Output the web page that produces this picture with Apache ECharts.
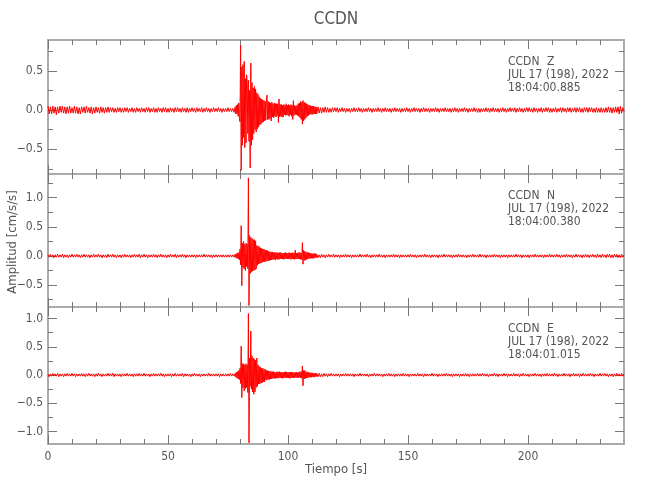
<!DOCTYPE html>
<html>
<head>
<meta charset="utf-8">
<script src="https://cdn.jsdelivr.net/npm/echarts@6/dist/echarts.min.js"></script>
<style>html,body{margin:0;padding:0;background:#fff}#c{width:650px;height:500px}</style>
</head>
<body>
<div id="c"></div>
<script>
// ---- data: amplitudes in 0.01 cm/s/s ----
// pre-event samples every dtSlow s from t = 0, event window every dtFast s from eventStart,
// post-event samples every dtSlow s from postStart.
const dtSlow = 0.5, dtFast = 0.25;
const eventStart = 78, postStart = 112;
const station = 'CCDN';
const components = ['Z', 'N', 'E'];
const dateLabel = 'JUL 17 (198), 2022';
const startTimes = ['18:04:00.885', '18:04:00.380', '18:04:01.015'];
const xTickValues = [0, 50, 100, 150, 200];
const xMinorValues = [10,20,30,40,60,70,80,90,110,120,130,140,160,170,180,190,210,220,230];
const yTickValues = [[-0.5, 0, 0.5], [-0.5, 0, 0.5, 1.0], [-1.0, -0.5, 0, 0.5, 1.0]];
const yMinorValues = [[-0.75,-0.25,0.25,0.75], [-0.75,-0.25,0.25,0.75,1.25], [-0.75,-0.25,0.25,0.75]];
const yMin = [-0.817, -0.875, -1.221];
const yMax = [0.894, 1.406, 1.204];
const xMin = 0, xMax = 240;

const zPre = [
5,-5,4,-5,5,-4,4,-6,4,-4,5,-3,5,-4,4,-5,4,-4,5,-4,
3,-4,5,-4,4,-5,3,-5,4,-3,4,-4,5,-3,3,-4,4,-5,3,-4,
4,-3,3,-4,4,-3,3,-4,3,-3,4,-3,3,-2,3,-3,2,-3,3,-2,
3,-3,2,-3,3,-2,3,-3,2,-2,3,-3,2,-3,3,-2,2,-3,3,-2,
2,-3,3,-2,3,-3,2,-2,3,-3,2,-3,3,-2,2,-3,3,-2,3,-3,
2,-3,3,-2,2,-3,3,-2,3,-2,2,-3,3,-2,2,-3,3,-3,2,-2,
3,-2,2,-3,3,-2,2,-2,3,-3,2,-2,3,-2,2,-3,2,-2,3,-2,
2,-2,3,-2,2,-3,2,-2,2,-2,3,-2,2,-2,2,-3
];
const zEvent = [
4,-5,6,-5,   7,-8,9,-10,
-15,83,-77,55,   -45,58,-35,62,   -48,40,-42,45,   35,-30,38,-40,
25,-74,60,-45,   35,-38,28,-30,   30,-25,27,-28,   22,-24,20,-22,
17,-19,15,-18,   14,-16,13,-15,   12,-14,11,-13,   10,19,-12,11,
-12,10,-11,9,    -14,10,-9,8,     -10,9,-8,8,      -9,8,-7,8,
-16,14,-9,7,     -8,7,-9,6,       -9,7,-6,6,       -7,8,-6,6,
-7,7,-8,6,       -6,7,-8,6,       -12,12,-7,6,     -6,5,-6,6,
-7,8,-8,9,       -10,11,-12,10,   -18,12,-14,10,   -12,9,-10,8,
-8,7,-7,6,       -6,6,-5,5,       -6,5,-5,5,       -5,4,-5,4
];
const zPost = [
-5,4,-4,3,-4,3,-3,4,-3,3,-3,2,-3,3,-2,3,
-2,3,-3,2,-2,3,-2,2,-3,2,-2,2,-3,2,-2,3,-2,2,-2,3,
-2,2,-3,2,-2,2,-2,3,-2,2,-3,2,-2,2,-2,3,-2,2,-3,2,
-2,3,-2,2,-2,2,-3,2,-2,3,-2,2,-2,2,-3,2,-2,2,-2,3,
-2,2,-3,2,-2,3,-2,2,-2,2,-3,2,-2,3,-2,2,-2,2,-3,2,
-2,2,-2,3,-2,2,-3,2,-2,2,-2,3,-2,2,-2,2,-3,2,-2,3,
-2,2,-3,2,-2,2,-2,3,-2,2,-3,2,-2,2,-2,3,-2,2,-3,2,
-3,2,-2,2,-2,3,-2,2,-3,2,-2,3,-2,2,-2,2,-3,2,-2,3,
-2,2,-3,2,-2,3,-2,2,-2,3,-3,2,-2,3,-2,2,-3,2,-2,3,
-2,3,-2,2,-3,3,-2,2,-3,2,-2,3,-3,2,-2,3,-2,3,-3,2,
-3,2,-2,3,-3,2,-2,3,-3,3,-2,2,-3,3,-2,3,-3,2,-2,3,
-3,3,-2,3,-3,2,-3,3,-2,3,-3,3,-2,3,-3,2,-3,3,-3,2,
-3,3,-3,2,-3,3,-3,4,-3,3,-4,3,-3,4,-3,4,-5,5,-4,3,
-2
];

const nPre = [
2,-2,3,-2,2,-3,2,-2,3,-2,2,-2,3,-3,2,-2,2,-3,2,-2,
3,-2,2,-2,3,-2,2,-3,2,-2,3,-2,2,-2,2,-3,2,-2,3,-2,
2,-2,3,-2,2,-3,2,-2,2,-3,3,-2,2,-2,3,-2,2,-3,2,-2,
2,-3,2,-2,3,-2,2,-2,2,-3,2,-2,3,-2,2,-2,3,-3,2,-2,
3,-2,2,-3,2,-2,2,-2,3,-2,2,-3,2,-2,3,-2,2,-2,2,-3,
2,-2,3,-2,2,-2,3,-3,2,-2,2,-2,3,-2,2,-3,2,-2,2,-2,
2,-2,2,-3,2,-2,2,-2,2,-2,3,-2,2,-2,2,-2,2,-3,2,-2,
2,-2,2,-2,2,-2,2,-2,2,-2,2,-2,2,-2,2,-2
];
const nEvent = [
3,-3,4,-4,      5,-5,6,-7,
12,-15,52,-51,  22,-20,25,-22,  20,-25,22,-18,  20,-22,134,-85,
35,-30,32,-28,  30,-26,28,-25,  28,-24,26,-22,  18,-16,17,-14,
16,-13,14,-12,  13,-11,12,-10,  12,-10,10,-9,   10,-9,9,-8,
8,-8,7,-7,      7,-7,7,-6,      6,-6,6,-7,      6,-5,6,-6,
5,-6,6,-5,      6,-5,5,-5,      5,-6,5,-5,      6,-5,5,-5,
5,-5,6,-5,      5,-6,5,-5,      6,-5,5,-6,      10,-5,5,-5,
5,-5,6,-5,      6,-6,5,-6,      23,-14,10,-8,   8,-7,7,-6,
6,-5,6,-5,      5,-4,5,-4,      4,-4,4,-4,      4,-3,4,-3
];
const nPost = [
3,-3,2,-3,3,-2,2,-3,2,-2,3,-2,2,-2,3,-2,
2,-2,2,-3,2,-2,2,-2,3,-2,2,-2,2,-3,2,-2,2,-2,2,-2,
3,-2,2,-2,2,-2,3,-2,2,-3,2,-2,2,-2,2,-2,3,-2,2,-2,
2,-3,2,-2,2,-2,2,-2,3,-2,2,-2,2,-3,2,-2,2,-2,2,-2,
2,-2,3,-2,2,-2,2,-3,2,-2,2,-2,2,-2,3,-2,2,-2,2,-3,
2,-2,2,-2,2,-3,2,-2,2,-2,3,-2,2,-2,2,-2,2,-3,2,-2,
2,-2,3,-2,2,-2,2,-2,2,-3,2,-2,2,-2,3,-2,2,-2,2,-2,
3,-2,2,-2,2,-3,2,-2,2,-2,2,-2,3,-2,2,-2,2,-3,2,-2,
2,-2,2,-3,2,-2,2,-2,2,-2,3,-2,2,-2,2,-3,2,-2,2,-2,
2,-3,2,-2,2,-2,3,-2,2,-2,2,-2,2,-3,2,-2,2,-2,3,-2,
2,-2,2,-2,3,-2,2,-3,2,-2,2,-2,3,-2,2,-2,2,-3,2,-2,
3,-2,2,-2,2,-3,2,-2,3,-2,2,-3,2,-2,3,-2,2,-3,3,-2,
2,-3,3,-2,2,-3,3,-2,3,-3,2,-3,3,-2,3,-3,2,-3,3,-2,
2
];

const ePre = [
2,-3,2,-2,3,-2,2,-2,3,-3,2,-2,2,-3,2,-2,3,-2,2,-2,
3,-2,2,-3,2,-2,2,-2,3,-2,2,-3,2,-2,3,-2,2,-2,2,-3,
2,-2,3,-2,2,-3,2,-2,2,-2,3,-2,2,-2,3,-3,2,-2,2,-2,
2,-3,2,-2,2,-2,3,-2,2,-2,2,-3,2,-2,2,-2,3,-2,2,-2,
3,-2,2,-2,2,-3,2,-2,3,-2,2,-2,2,-2,3,-2,2,-3,2,-2,
2,-2,2,-3,2,-2,3,-2,2,-2,2,-2,3,-3,2,-2,2,-2,2,-3,
2,-2,3,-2,2,-2,2,-3,2,-2,2,-2,2,-2,3,-2,2,-2,2,-2,
2,-2,2,-3,2,-2,2,-2,2,-2,2,-2,3,-2,2,-2
];
const eEvent = [
3,-4,5,-5,      6,-7,8,-8,
12,-15,51,-40,  20,-22,20,-28,  18,-24,20,-22,  18,-31,109,-120,
30,-20,78,-25,  34,-30,30,-34,  28,-30,26,-22,  30,-20,18,-16,
15,-16,14,-14,  12,-14,12,-12,  10,-12,10,-9,   8,-9,8,-8,
7,-8,7,-7,      6,-7,6,-6,      6,-6,5,-6,      5,-5,6,-6,
5,-5,6,-5,      5,-5,5,-6,      5,-5,5,-5,      6,-5,5,-5,
5,-5,5,-6,      5,-5,5,-5,      5,-5,4,-5,      5,-4,5,-5,
4,-5,5,-4,      6,-5,6,-6,      16,-19,8,-7,    8,-6,6,-5,
5,-5,5,-4,      4,-4,4,-4,      4,-3,3,-4,      3,-3,3,-3
];
const ePost = [
3,-3,3,-3,2,-3,3,-2,2,-3,2,-2,3,-2,2,-2,
2,-2,2,-3,2,-2,2,-2,3,-2,2,-2,2,-2,2,-3,2,-2,2,-2,
3,-2,2,-2,2,-2,2,-3,2,-2,2,-2,3,-2,2,-2,2,-2,2,-3,
2,-2,2,-2,3,-2,2,-2,2,-3,2,-2,2,-2,2,-2,3,-2,2,-2,
2,-3,2,-2,2,-2,2,-2,3,-2,2,-2,2,-3,2,-2,2,-2,2,-2,
3,-2,2,-2,2,-3,2,-2,2,-2,2,-2,3,-2,2,-2,2,-3,2,-2,
2,-2,2,-3,2,-2,2,-2,3,-2,2,-3,2,-2,2,-2,2,-2,3,-2,
2,-2,3,-2,2,-2,2,-3,2,-2,2,-2,3,-2,2,-3,2,-2,2,-2,
3,-2,2,-3,2,-2,2,-2,3,-2,2,-2,2,-3,2,-2,3,-2,2,-2,
2,-3,2,-2,2,-2,3,-2,2,-2,2,-3,2,-2,2,-2,3,-2,2,-2,
2,-2,3,-2,2,-3,2,-2,2,-2,3,-2,2,-2,2,-3,2,-2,3,-2,
2,-2,2,-3,2,-2,3,-2,2,-2,2,-2,3,-2,2,-3,2,-2,2,-2,
3,-2,2,-2,3,-2,2,-3,2,-2,2,-3,2,-2,3,-2,2,-2,3,-2,
2
];
const traces = [[zPre, zEvent, zPost], [nPre, nEvent, nPost], [ePre, eEvent, ePost]];

// ---- layout / style ----
const FONT = '"Liberation Sans Narrow","Arial Narrow","DejaVu Sans Condensed",sans-serif';
const TXT = '#555555';
const AX = '#aaaaaa';
const TK = '#777777';
const plotLeft = 48, plotWidth = 576;
const tops = [40, 174, 307];
const heights = [134, 133, 137];

const fmtY = v => (v < 0 ? '\u2212' : '') + Math.abs(v).toFixed(1);

function buildTrace(parts) {
  const [pre, ev, post] = parts;
  const pts = [];
  pre.forEach((v, i) => pts.push([i * dtSlow, v / 100]));
  ev.forEach((v, i) => pts.push([eventStart + i * dtFast, v / 100]));
  post.forEach((v, i) => pts.push([postStart + i * dtSlow, v / 100]));
  return pts;
}

const grids = [], xAxes = [], yAxes = [], series = [], graphics = [];

function xAx(g, pos, major, showLine, showLabel) {
  return {
    type: 'value', gridIndex: g, position: pos, min: xMin, max: xMax,
    axisLine: { show: showLine, onZero: false, lineStyle: { color: AX, width: 2 } },
    axisTick: { show: true, inside: true, length: major ? 9 : 5,
      customValues: major ? xTickValues : xMinorValues,
      lineStyle: { color: TK, width: 1 } },
    axisLabel: { show: showLabel, customValues: xTickValues, margin: 7,
      color: TXT, fontSize: 12, fontFamily: FONT },
    splitLine: { show: false }
  };
}
function yAx(g, pos, major, showLine, showLabel) {
  return {
    type: 'value', gridIndex: g, position: pos, min: yMin[g], max: yMax[g],
    axisLine: { show: showLine, onZero: false, lineStyle: { color: AX, width: 2 } },
    axisTick: { show: true, inside: true, length: major ? 9 : 5,
      customValues: major ? yTickValues[g] : yMinorValues[g],
      lineStyle: { color: TK, width: 1 } },
    axisLabel: { show: showLabel, customValues: yTickValues[g], margin: 5,
      color: TXT, fontSize: 12, fontFamily: FONT, formatter: fmtY },
    splitLine: { show: false }
  };
}

for (let g = 0; g < 3; g++) {
  grids.push({ left: plotLeft, width: plotWidth, top: tops[g], height: heights[g], containLabel: false });
  xAxes.push(xAx(g, 'bottom', true, true, g === 2));
  xAxes.push(xAx(g, 'bottom', false, false, false));
  xAxes.push(xAx(g, 'top', true, true, false));
  xAxes.push(xAx(g, 'top', false, false, false));
  yAxes.push(yAx(g, 'left', true, true, true));
  yAxes.push(yAx(g, 'left', false, false, false));
  yAxes.push(yAx(g, 'right', true, true, false));
  yAxes.push(yAx(g, 'right', false, false, false));
  series.push({
    type: 'line', xAxisIndex: 4 * g, yAxisIndex: 4 * g,
    data: buildTrace(traces[g]),
    showSymbol: false, symbol: 'none', sampling: null, silent: true,
    lineStyle: { color: '#ff0000', width: 1 }, z: 1
  });
  const ty = tops[g];
  const txt = (t, x, y) => ({ type: 'text', x: x, y: y, silent: true,
    style: { text: t, fill: TXT, font: '12px ' + FONT, align: 'left', verticalAlign: 'middle' } });
  graphics.push(txt(station, 508, ty + 22));
  graphics.push(txt(components[g], 547, ty + 22));
  graphics.push(txt(dateLabel, 508, ty + 35));
  graphics.push(txt(startTimes[g], 508, ty + 48));
}

graphics.push({ type: 'text', x: plotLeft + plotWidth / 2, y: 20, silent: true,
  style: { text: station, fill: TXT, font: '17px ' + FONT, align: 'center', verticalAlign: 'middle' } });
graphics.push({ type: 'text', x: plotLeft + plotWidth / 2, y: 470, silent: true,
  style: { text: 'Tiempo [s]', fill: TXT, font: '13px ' + FONT, align: 'center', verticalAlign: 'middle' } });
graphics.push({ type: 'text', x: 13, y: 242, rotation: Math.PI / 2, silent: true,
  style: { text: 'Amplitud [cm/s/s]', fill: TXT, font: '13px ' + FONT, align: 'center', verticalAlign: 'middle' } });

const chart = echarts.init(document.getElementById('c'), null, { renderer: 'canvas' });
chart.setOption({
  animation: false,
  backgroundColor: '#ffffff',
  textStyle: { fontFamily: FONT },
  grid: grids,
  xAxis: xAxes,
  yAxis: yAxes,
  series: series,
  graphic: graphics
});
</script>
</body>
</html>
